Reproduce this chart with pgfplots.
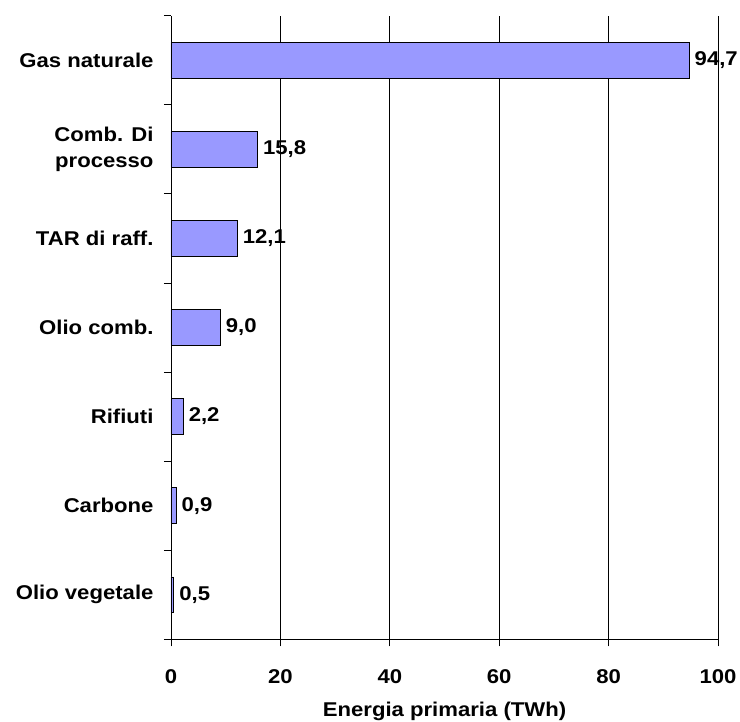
\documentclass[border=0pt]{standalone}
\usepackage{fontspec}
\setmainfont{Liberation Sans}[FakeStretch=1.11]
\usepackage{pgfplots}
\pgfplotsset{compat=1.18}
\definecolor{barfill}{HTML}{9999FF}
\begin{document}
\begin{tikzpicture}
\begin{axis}[
  scale only axis,
  width=547bp, height=623.6bp,
  xbar, bar width=0.4,
  xmin=0, xmax=100, ymin=-0.5, ymax=6.5,
  xtick={0,20,...,100},
  ytick={0,...,6},
  yticklabels={Olio vegetale,Carbone,Rifiuti,Olio comb.,TAR di raff.,{Comb. Di\\processo},Gas naturale},
  minor ytick={-0.5,0.5,...,6.5},
  major tick length=7bp, minor tick length=7bp,
  every major y tick/.append style={draw=none},
  tick align=outside,
  tick style={black, line width=0.8pt},
  axis x line*=bottom, axis y line*=left,
  axis line style={black, line width=0.9pt, -},
  xmajorgrids, major grid style={black, line width=0.8pt},
  font=\fontsize{20}{26}\selectfont\bfseries,
  /pgf/number format/assume math mode=true,
  xticklabel style={yshift=-20bp},
  yticklabel style={align=right, xshift=-7bp},
  xlabel={Energia primaria (TWh)},
  xlabel style={yshift=-11bp},
  nodes near coords,
  every node near coord/.append style={font=\fontsize{20}{25}\selectfont\bfseries, xshift=2bp,
    /pgf/number format/fixed, /pgf/number format/fixed zerofill, /pgf/number format/precision=1,
    /pgf/number format/use comma, /pgf/number format/assume math mode=true},
  clip=false,
]
\addplot[fill=barfill, draw=black, line width=0.8pt] coordinates {
  (0.5,0) (0.9,1) (2.2,2) (9.0,3) (12.1,4) (15.8,5) (94.7,6)
};
\coordinate (O) at (rel axis cs:0,0);
\end{axis}
\pgfresetboundingbox
\path (O) ++(-171bp,-82.7bp) rectangle ++(740bp,722bp);
\end{tikzpicture}
\end{document}
